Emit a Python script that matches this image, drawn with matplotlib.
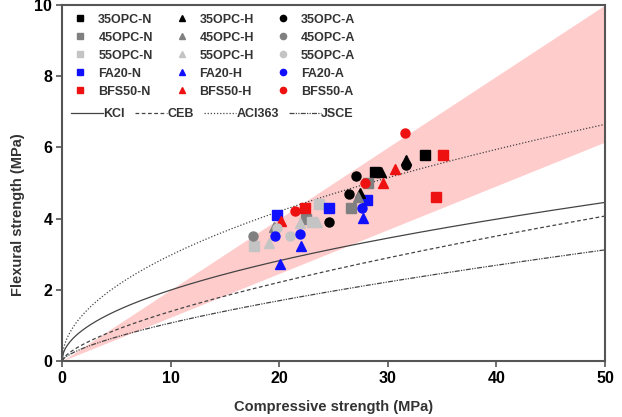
#!/usr/bin/env python3

import numpy as np
import matplotlib.pyplot as plt
from matplotlib.lines import Line2D

plt.rcParams['font.family'] = ['Liberation Sans', 'DejaVu Sans']
plt.rcParams['font.weight'] = 'bold'

# mixes and curing (N, H, A)
mixes = ["35OPC", "45OPC", "55OPC", "FA20", "BFS50"]
mix_colors = ["#000000", "#808080", "#c4c4c4", "#1010ff", "#ee1111"]
curing = ["N", "H", "A"]
curing_markers = ["s", "^", "o"]

# compressive (MPa), flexural (MPa)
fc = {
    "35OPC-N": [28.8, 33.4],
    "35OPC-H": [29.4, 31.7, 27.4],
    "35OPC-A": [27.1, 31.7, 26.4, 24.6],
    "45OPC-N": [28.2, 26.6, 22.5],
    "45OPC-H": [27.3, 19.5],
    "45OPC-A": [17.6],
    "55OPC-N": [23.7, 23.0, 17.7],
    "55OPC-H": [23.5, 21.9, 19.1],
    "55OPC-A": [21.0, 19.8],
    "FA20-N": [19.8, 24.6, 28.1],
    "FA20-H": [20.1, 22.0, 27.7],
    "FA20-A": [19.6, 21.9, 27.6],
    "BFS50-N": [22.4, 35.1, 34.4],
    "BFS50-H": [20.2, 29.6, 30.7],
    "BFS50-A": [21.5, 27.9, 31.6],
}
fr = {
    "35OPC-N": [5.3, 5.8],
    "35OPC-H": [5.3, 5.65, 4.73],
    "35OPC-A": [5.2, 5.5, 4.7, 3.9],
    "45OPC-N": [5.0, 4.3, 4.0],
    "45OPC-H": [4.6, 3.77],
    "45OPC-A": [3.5],
    "55OPC-N": [4.4, 3.9, 3.23],
    "55OPC-H": [3.9, 3.87, 3.32],
    "55OPC-A": [3.5, 3.75],
    "FA20-N": [4.1, 4.3, 4.52],
    "FA20-H": [2.72, 3.23, 4.03],
    "FA20-A": [3.5, 3.58, 4.3],
    "BFS50-N": [4.3, 5.8, 4.6],
    "BFS50-H": [3.93, 5.0, 5.4],
    "BFS50-A": [4.2, 5.0, 6.4],
}

# design code relations fr = k * fc^p
code_names = ["KCI", "CEB", "ACI363", "JSCE"]
code_k = [0.63, 0.30, 0.94, 0.23]
code_p = [0.5, 2 / 3, 0.5, 2 / 3]
code_styles = ["-", (0, (3, 2)), (0, (1, 1.5)), (0, (4, 1, 1, 1, 1, 1))]

# shaded band fr/fc ratios
band_low, band_high = 0.123, 0.2

fig = plt.figure(figsize=(6.22, 4.17), dpi=100)
fig.subplots_adjust(left=62 / 622, right=605 / 622, top=1 - 5 / 417, bottom=1 - 361 / 417)
ax = fig.add_subplot(111)

xs = np.linspace(0, 50, 400)
ax.fill_between(xs, band_low * xs, band_high * xs, color="#ffcccc", lw=0, zorder=0)

line_handles = []
for name, k, p, ls in zip(code_names, code_k, code_p, code_styles):
    h, = ax.plot(xs, k * xs ** p, color="#444444", lw=0.9, ls=ls, label=name, zorder=1)
    line_handles.append(h)

marker_handles = []
for m, mk in zip(curing, curing_markers):
    for mix, c in zip(mixes, mix_colors):
        key = mix + "-" + m
        ax.plot(fc[key], fr[key], ls="none", marker=mk, ms=6.5, color=c, mec=c, zorder=3)
        marker_handles.append(Line2D([], [], ls="none", marker=mk, ms=4.5, color=c, label=key))

ax.set_xlim(0, 50)
ax.set_ylim(0, 10)
ax.set_xticks(range(0, 51, 10))
ax.set_yticks(range(0, 11, 2))
for s in ax.spines.values():
    s.set_color("#555555")
    s.set_linewidth(1.5)
ax.tick_params(direction="out", length=4, width=1.2, color="#555555", labelsize=11.5, pad=3)
ax.set_xlabel("Compressive strength (MPa)", fontsize=10.5, fontweight="bold", color="#333333")
ax.set_ylabel("Flexural strength (MPa)", fontsize=10.5, fontweight="bold", color="#333333")
ax.xaxis.set_label_coords(0.5, -0.11)
ax.yaxis.set_label_coords(-0.068, 0.41)

leg1 = ax.legend(handles=marker_handles, ncol=3, loc="upper left", bbox_to_anchor=(0.006, 1.0),
                 frameon=False, fontsize=9, handlelength=1.0, handletextpad=0.94,
                 columnspacing=1.8, labelspacing=0.48, borderaxespad=0.3)
for t in leg1.get_texts():
    t.set_color("#333333")
ax.add_artist(leg1)
leg2 = ax.legend(handles=line_handles, ncol=4, loc="upper left", bbox_to_anchor=(0.0, 0.735),
                 frameon=False, fontsize=9, handlelength=2.55, handletextpad=0.05,
                 columnspacing=0.8, borderaxespad=0.3)
for t in leg2.get_texts():
    t.set_color("#333333")

fig.savefig("out.png", dpi=100)
